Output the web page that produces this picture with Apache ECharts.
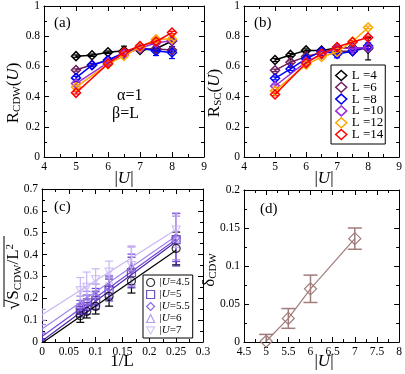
<!DOCTYPE html>
<html>
<head>
<meta charset="utf-8">
<script src="https://cdn.jsdelivr.net/npm/echarts@6/dist/echarts.min.js"></script>
<style>
html, body { margin: 0; padding: 0; background: #fff; }
#chart { width: 405px; height: 374px; }
</style>
</head>
<body>
<div id="chart"></div>
<script>
const FONT = 'Liberation Serif'

// (a) and (b): ratios vs |U|
const uGrid = [5, 5.5, 6, 6.5, 7, 7.5, 8]
const sizeNames = ['L =4', 'L =6', 'L =8', 'L =10', 'L =12', 'L =14']
const sizeColors = ['#000000', '#6e1f5c', '#0000ff', '#9b30d9', '#ffa500', '#ff0000']

const rcdwL4 = [0.668, 0.674, 0.694, 0.704, 0.709, 0.717, 0.768]
const rcdwL6 = [0.576, 0.611, 0.640, 0.690, 0.715, 0.715, 0.708]
const rcdwL8 = [0.524, 0.608, 0.642, 0.690, 0.724, 0.702, 0.692]
const rcdwL10 = [0.486, null, 0.625, 0.680, 0.720, 0.755, 0.772]
const rcdwL12 = [0.463, null, 0.615, 0.670, 0.728, 0.780, 0.782]
const rcdwL14 = [0.425, null, 0.618, 0.695, 0.735, 0.765, 0.824]
const rcdwErrL4 = [0.008, 0.008, 0.008, 0.03, 0.01, 0.012, 0.015]
const rcdwErrL8 = [0.01, 0.01, 0.01, 0.01, 0.01, 0.03, 0.04]

const rscL4 = [0.642, 0.676, 0.706, 0.705, 0.722, 0.724, 0.718]
const rscL6 = [0.574, 0.628, 0.665, 0.690, 0.700, 0.700, 0.725]
const rscL8 = [0.521, 0.583, 0.650, 0.700, 0.682, 0.700, 0.735]
const rscL10 = [0.470, null, 0.630, 0.680, 0.720, 0.720, 0.725]
const rscL12 = [0.438, null, 0.612, 0.662, 0.695, 0.765, 0.858]
const rscL14 = [0.414, null, 0.622, 0.685, 0.728, 0.762, 0.792]
const rscErrL4 = [0.01, 0.01, 0.01, 0.01, 0.01, 0.01, 0.075]
const rscErrL8 = [0.01, 0.01, 0.01, 0.01, 0.025, 0.01, 0.02]

// (c): sqrt(S_CDW/L^2) vs 1/L
const invL = [0.25, 0.1667, 0.125, 0.1, 0.0833, 0.0714]
const uNames = ['|U|=4.5', '|U|=5', '|U|=5.5', '|U|=6', '|U|=7']
const uColors = ['#000000', '#4b2aa8', '#7446dc', '#a184e6', '#c9b6f2']
const uSymbols = ['circle', 'rect', 'diamond', 'triangle', 'path://M0,0L10,0L5,9Z']
const scdwU45 = [0.428, 0.279, 0.209, 0.163, 0.140, 0.120]
const scdwU5 = [0.468, 0.318, 0.238, 0.190, 0.162, 0.145]
const scdwU55 = [0.478, 0.332, 0.248, 0.205, 0.180, 0.160]
const scdwU6 = [0.476, 0.345, 0.255, 0.220, 0.192, 0.175]
const scdwU7 = [0.512, 0.350, 0.320, 0.285, 0.250, 0.235]
const scdwErrU45 = [0.075, 0.055, 0.045, 0.035, 0.03, 0.03]
const scdwErrU5 = [0.12, 0.07, 0.05, 0.04, 0.035, 0.03]
const scdwErrU55 = [0.11, 0.07, 0.05, 0.04, 0.035, 0.03]
const scdwErrU6 = [0.1, 0.09, 0.05, 0.045, 0.04, 0.035]
const scdwErrU7 = [0.08, 0.09, 0.05, 0.05, 0.07, 0.06]
// linear fits: value at 1/L = 0 and at 1/L = 0.25
const fitAt0 = [-0.005, 0.005, 0.025, 0.06, 0.125]
const fitAt025 = [0.42, 0.46, 0.47, 0.485, 0.515]
const fitErr0 = [0.005, 0.01, 0.015, 0.02, 0.025]

// (d): delta_CDW vs |U|
const uD = [5, 5.5, 6, 7]
const deltaCdw = [0.001, 0.031, 0.070, 0.136]
const deltaErr = [0.009, 0.013, 0.018, 0.014]

const chart = echarts.init(document.getElementById('chart'))

const grids = [
  { left: 44, top: 5, width: 160, height: 152 },
  { left: 244, top: 5, width: 160, height: 152 },
  { left: 42, top: 189, width: 161, height: 153 },
  { left: 244, top: 190, width: 160, height: 152 }
]

const xAxes = []
const yAxes = []
const tickStyle = {
  axisLine: { show: true, onZero: false, lineStyle: { color: '#000', width: 1 } },
  axisTick: { show: true, inside: true, length: 5, lineStyle: { color: '#000' } },
  minorTick: { show: true, splitNumber: 2, length: 3, lineStyle: { color: '#000' } },
  splitLine: { show: false }
}
const labelStyle = { fontFamily: FONT, fontSize: 11.5, color: '#000' }

// each panel gets a bottom/left axis with labels and a top/right mirror
function addAxes(g, xr, yr) {
  xAxes.push(Object.assign({
    type: 'value', gridIndex: g, min: xr[0], max: xr[1], interval: xr[2],
    axisLabel: Object.assign({ margin: 4 }, labelStyle)
  }, tickStyle))
  xAxes.push(Object.assign({
    type: 'value', gridIndex: g, position: 'top', min: xr[0], max: xr[1], interval: xr[2],
    axisLabel: { show: false }
  }, tickStyle))
  yAxes.push(Object.assign({
    type: 'value', gridIndex: g, min: yr[0], max: yr[1], interval: yr[2],
    axisLabel: Object.assign({ margin: 4 }, labelStyle)
  }, tickStyle))
  yAxes.push(Object.assign({
    type: 'value', gridIndex: g, position: 'right', min: yr[0], max: yr[1], interval: yr[2],
    axisLabel: { show: false }
  }, tickStyle))
}

addAxes(0, [4, 9, 1], [0, 1, 0.2])
addAxes(1, [4, 9, 1], [0, 1, 0.2])
addAxes(2, [0, 0.3, 0.05], [0, 0.7, 0.1])
addAxes(3, [4.5, 8, 0.5], [0, 0.2, 0.05])

function errorSeries(panel, pts, color, half, width) {
  return {
    type: 'custom', xAxisIndex: 2 * panel, yAxisIndex: 2 * panel, silent: true, clip: true, z: 1,
    encode: { x: 0, y: [1, 2] },
    renderItem(params, api) {
      const lo = api.coord([api.value(0), api.value(1)])
      const hi = api.coord([api.value(0), api.value(2)])
      const st = { stroke: color, lineWidth: width || 1 }
      return {
        type: 'group',
        children: [
          { type: 'line', shape: { x1: lo[0], y1: lo[1], x2: hi[0], y2: hi[1] }, style: st },
          { type: 'line', shape: { x1: lo[0] - half, y1: lo[1], x2: lo[0] + half, y2: lo[1] }, style: st },
          { type: 'line', shape: { x1: hi[0] - half, y1: hi[1], x2: hi[0] + half, y2: hi[1] }, style: st }
        ]
      }
    },
    data: pts
  }
}

function pairs(xs, ys) {
  return xs.map((x, i) => [x, ys[i]]).filter(p => p[1] !== null)
}
function bars(xs, ys, err) {
  return xs.map((x, i) => [x, ys[i], err[i]]).filter(p => p[1] !== null)
    .map(p => [p[0], p[1] - p[2], p[1] + p[2]])
}

const series = []
const small = [0.008, 0.008, 0.008, 0.008, 0.008, 0.008, 0.008]
const rcdwSets = [rcdwL4, rcdwL6, rcdwL8, rcdwL10, rcdwL12, rcdwL14]
const rscSets = [rscL4, rscL6, rscL8, rscL10, rscL12, rscL14]
const rcdwErrs = [rcdwErrL4, small, rcdwErrL8, small, small, small]
const rscErrs = [rscErrL4, small, rscErrL8, small, small, small]

;[[rcdwSets, rcdwErrs], [rscSets, rscErrs]].forEach(([sets, errs], panel) => {
  sets.forEach((vals, k) => {
    series.push(errorSeries(panel, bars(uGrid, vals, errs[k]), sizeColors[k], 3, 1.2))
    series.push({
      name: sizeNames[k], type: 'line', xAxisIndex: 2 * panel, yAxisIndex: 2 * panel,
      data: pairs(uGrid, vals), symbol: 'diamond', symbolSize: 9,
      lineStyle: { color: sizeColors[k], width: 1.5 },
      itemStyle: { color: 'rgba(255,255,255,0)', borderColor: sizeColors[k], borderWidth: 1.5 },
      z: 2 + k
    })
  })
})

const scdwSets = [scdwU45, scdwU5, scdwU55, scdwU6, scdwU7]
const scdwErrs = [scdwErrU45, scdwErrU5, scdwErrU55, scdwErrU6, scdwErrU7]
scdwSets.forEach((vals, k) => {
  series.push(errorSeries(2, bars(invL, vals, scdwErrs[k]), uColors[k], 4, 1.2))
  series.push(errorSeries(2, [[0, fitAt0[k] - fitErr0[k], fitAt0[k] + fitErr0[k]]], uColors[k], 4, 1.2))
  series.push({
    type: 'line', xAxisIndex: 4, yAxisIndex: 4, symbol: 'none',
    data: [[0, fitAt0[k]], [0.25, fitAt025[k]]],
    lineStyle: { color: uColors[k], width: 1.2 }, z: 2
  })
  series.push({
    name: uNames[k], type: 'scatter', xAxisIndex: 4, yAxisIndex: 4,
    data: pairs(invL, vals), symbol: uSymbols[k], symbolSize: 8,
    itemStyle: { color: 'rgba(255,255,255,0)', borderColor: uColors[k], borderWidth: 1.2 },
    z: 3
  })
})

const brown = '#a07c7a'
series.push(errorSeries(3, bars(uD, deltaCdw, deltaErr), brown, 7, 1.5))
series.push({
  name: 'delta', type: 'line', xAxisIndex: 6, yAxisIndex: 6,
  data: pairs(uD, deltaCdw), symbol: 'diamond', symbolSize: 12,
  lineStyle: { color: brown, width: 1.2 },
  itemStyle: { color: 'rgba(255,255,255,0)', borderColor: brown, borderWidth: 1.2 },
  z: 3
})

const nameRich = {
  n: { fontFamily: FONT, fontSize: 17, color: '#000' },
  r: { fontFamily: FONT, fontSize: 19, color: '#000' },
  i: { fontFamily: FONT, fontSize: 17, fontStyle: 'italic', color: '#000' },
  s: { fontFamily: FONT, fontSize: 11, color: '#000', verticalAlign: 'bottom', padding: [6, 0, 0, 0] },
  p: { fontFamily: FONT, fontSize: 11, color: '#000', verticalAlign: 'top', padding: [0, 0, 6, 0] }
}
// axis titles as free text so that they sit where the reference puts them
function axisTitle(text, x, y, vertical, extra) {
  return {
    type: 'group', x: x, y: y, rotation: vertical ? Math.PI / 2 : 0,
    children: [{
      type: 'text',
      style: { text: text, rich: nameRich, align: 'center', verticalAlign: 'middle' }
    }].concat(extra || [])
  }
}
function note(text, x, y, size) {
  return { type: 'text', x: x, y: y, style: { text: text, font: size + 'px "Liberation Serif"', fill: '#000' } }
}

const legendRich = {
  n: { fontFamily: FONT, fontSize: 11, color: '#000' },
  i: { fontFamily: FONT, fontSize: 11, fontStyle: 'italic', color: '#000' }
}

chart.setOption({
  animation: false,
  grid: grids,
  xAxis: xAxes,
  yAxis: yAxes,
  legend: [
    {
      orient: 'vertical', left: 331, top: 65, selectedMode: false,
      borderColor: '#000', borderWidth: 1, backgroundColor: '#fff',
      padding: [4, 2, 3, 4], itemWidth: 11, itemHeight: 10, itemGap: -1.2,
      textStyle: { fontFamily: FONT, fontSize: 13, color: '#000' },
      data: sizeNames.map((n, k) => ({
        name: n, icon: 'diamond',
        itemStyle: { color: '#fff', borderColor: sizeColors[k], borderWidth: 1.5 }
      }))
    },
    {
      orient: 'vertical', left: 143, top: 275, selectedMode: false,
      borderColor: '#000', borderWidth: 1, backgroundColor: '#fff',
      padding: [2, 3, 2, 3], itemWidth: 8, itemHeight: 8, itemGap: 1,
      textStyle: { fontFamily: FONT, fontSize: 11, color: '#000', lineHeight: 10.5, rich: legendRich },
      formatter: name => '{n||}{i|U}{n|' + name.slice(3) + '}',
      data: uNames.map((n, k) => ({
        name: n, icon: uSymbols[k],
        itemStyle: { color: '#fff', borderColor: uColors[k], borderWidth: 1.2 }
      }))
    }
  ],
  graphic: [
    note('(a)', 54, 16, 15),
    note('α=1', 117, 88, 16),
    note('β=L', 112, 106, 16),
    note('(b)', 254, 16, 15),
    note('(c)', 54, 200, 15),
    note('(d)', 260, 202, 15),
    axisTitle('{n||}{i|U}{n||}', 124, 179),
    axisTitle('{n||}{i|U}{n||}', 324, 179),
    axisTitle('{n|1/L}', 122, 362),
    axisTitle('{n||}{i|U}{n||}', 324, 362),
    axisTitle('{n|R}{s|CDW}{n|(}{i|U}{n|)}', 14, 93, true),
    axisTitle('{n|R}{s|SC}{n|(}{i|U}{n|)}', 215, 93, true),
    axisTitle('{n|δ}{s|CDW}', 210, 270, true),
    axisTitle('{r|√}{n|S}{s|CDW}{n|/L}{p|2}', 14, 277, true, [
      { type: 'line', shape: { x1: -30, y1: -10, x2: 41, y2: -10 }, style: { stroke: '#000', lineWidth: 1 } }
    ])
  ],
  series: series
})
</script>
</body>
</html>
